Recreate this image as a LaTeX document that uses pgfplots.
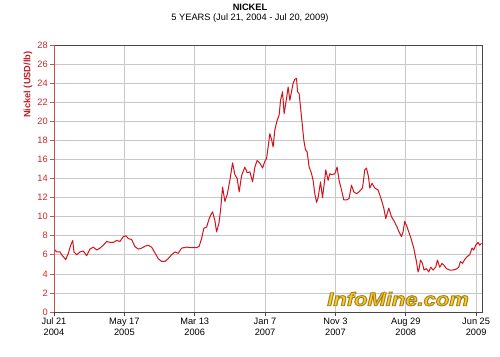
\documentclass[border=0pt]{standalone}
\usepackage{fontspec}
\setmainfont{Liberation Sans}
\usepackage{pgfplots}
\pgfplotsset{compat=1.18}
\definecolor{curvec}{RGB}{212,18,28}
\definecolor{gridc}{RGB}{200,200,200}
\definecolor{boxc}{RGB}{70,70,70}
\definecolor{axred}{RGB}{200,80,80}
\definecolor{tickred}{RGB}{204,40,40}
\definecolor{labred}{RGB}{190,30,40}
\definecolor{logofill}{RGB}{248,206,40}
\pgfplotstableread{
day val
0 6.6
11.5 6.3
25.6 6.3
32.8 6.0
49.9 5.5
61.0 6.15
71.2 7.0
79.7 7.5
85.2 6.3
96.7 6.0
110.8 6.3
124.8 6.4
139.3 5.9
153.4 6.6
167.5 6.8
181.9 6.5
196.0 6.7
210.1 7.0
224.6 7.4
238.6 7.3
252.7 7.3
267.2 7.5
281.2 7.4
295.3 7.9
306.8 8.0
316.6 7.7
331.1 7.6
345.1 6.85
359.2 6.6
373.7 6.7
387.8 6.9
401.8 7.0
416.3 6.8
430.4 6.2
444.4 5.6
458.9 5.3
473.0 5.3
487.0 5.6
501.5 6.0
515.6 6.3
529.6 6.15
544.1 6.7
565.4 6.8
586.7 6.75
608.0 6.75
619.1 6.9
629.3 7.7
639.2 8.8
650.6 8.9
661.7 9.8
669.0 10.2
676.2 10.5
686.0 9.6
693.3 8.4
703.1 9.3
710.3 10.7
718.8 13.1
728.6 11.6
738.4 12.3
749.9 13.8
761.4 15.65
771.2 14.4
781.0 14.0
789.6 12.6
799.8 14.3
813.9 15.2
823.7 14.6
835.2 14.7
846.7 13.65
856.5 15.2
866.3 15.9
877.8 15.6
889.3 15.1
899.1 15.8
906.3 16.1
913.1 17.3
920.4 18.7
927.6 18.1
934.4 17.3
941.7 19.1
951.5 20.1
960.0 20.65
966.0 22.2
974.5 23.1
981.3 20.8
991.5 22.4
998.4 23.6
1005.6 22.2
1012.8 23.1
1019.7 24.0
1026.9 24.4
1034.2 24.5
1038.4 23.1
1045.2 22.9
1051.2 21.5
1058.0 19.8
1065.3 18.0
1072.5 17.0
1079.3 16.8
1087.8 15.2
1097.2 14.6
1104.9 13.8
1112.1 12.4
1119.4 11.5
1126.2 12.0
1136.4 13.65
1144.9 12.0
1150.5 13.1
1159.0 14.9
1168.8 13.8
1176.0 14.5
1185.8 14.4
1197.3 14.5
1207.1 15.2
1215.7 13.8
1225.9 12.8
1235.7 11.75
1247.2 11.75
1258.3 11.9
1268.5 13.3
1278.3 12.6
1289.8 12.4
1300.9 12.6
1315.4 13.0
1325.2 14.9
1332.4 15.1
1340.9 14.2
1346.5 13.0
1356.3 13.5
1367.8 13.0
1381.8 12.8
1396.3 11.75
1406.1 10.9
1414.7 9.8
1427.4 10.9
1438.9 10.0
1453.0 9.4
1462.8 8.9
1471.3 8.4
1481.5 7.9
1488.4 8.4
1495.6 9.5
1502.9 9.1
1509.7 8.6
1519.9 7.9
1528.4 7.2
1534.0 6.7
1539.5 6.0
1545.5 5.3
1552.3 4.2
1556.6 4.5
1562.5 5.45
1571.1 5.1
1577.9 4.4
1588.1 4.55
1597.9 4.2
1606.4 4.7
1616.2 4.4
1627.7 4.7
1634.9 5.45
1644.7 4.7
1654.5 5.1
1663.0 4.9
1673.3 4.55
1687.4 4.4
1701.4 4.4
1715.9 4.5
1725.7 4.7
1733.0 5.3
1741.5 5.1
1751.3 5.5
1761.1 5.8
1772.6 6.0
1782.4 6.7
1789.6 6.5
1798.2 7.0
1808.0 7.3
1815.2 7.0
1822.4 7.2
}\nickel
\begin{document}
\begin{tikzpicture}
\useasboundingbox (0,0) rectangle (500bp,357bp);
\begin{axis}[
  at={(54bp,45bp)}, anchor=south west,
  scale only axis, width=428bp, height=267bp,
  xmin=0, xmax=1825, ymin=0, ymax=28,
  xtick={0,300,600,900,1200,1500,1800},
  xticklabels={{Jul 21\\2004},{May 17\\2005},{Mar 13\\2006},{Jan 7\\2007},{Nov 3\\2007},{Aug 29\\2008},{Jun 25\\2009}},
  ytick={0,2,...,28},
  xtick pos=bottom, ytick pos=left,
  grid=major, major grid style={draw=gridc, line width=0.7bp},
  tick align=outside, major tick length=4.5bp,
  x tick style={draw=boxc, line width=0.6bp},
  y tick style={draw=axred, line width=0.6bp},
  axis line style={draw=boxc, line width=0.8bp},
  xticklabel style={font=\fontsize{9.3}{11}\selectfont, align=center, text=black, inner sep=1bp},
  yticklabel style={font=\fontsize{9.3}{11}\selectfont, text=tickred, inner sep=1.5bp},
  /pgf/number format/assume math mode=true,
]
\addplot[curvec, line width=1bp, line join=round] table[x=day, y=val] {\nickel};
\draw[axred, line width=1bp] (rel axis cs:0,0) -- (rel axis cs:0,1);
\end{axis}
\node[font=\bfseries\fontsize{9.3}{11}\selectfont] at (250bp,350bp) {NICKEL};
\node[font=\fontsize{9.3}{11}\selectfont] at (250bp,339bp) {5 YEARS (Jul 21, 2004 - Jul 20, 2009)};
\node[rotate=90, anchor=east, font=\bfseries\fontsize{9.3}{11}\selectfont, text=labred] at (28bp,309bp) {Nickel (USD/lb)};
\node[font=\bfseries\itshape\fontsize{19}{20}\selectfont, text=logofill, xscale=1.16] at (398bp,58bp) {\special{pdf:literal direct 2 Tr 0.9 w 0.66 0.5 0.14 RG}InfoMine.com\special{pdf:literal direct 0 Tr}};
\end{tikzpicture}
\end{document}
